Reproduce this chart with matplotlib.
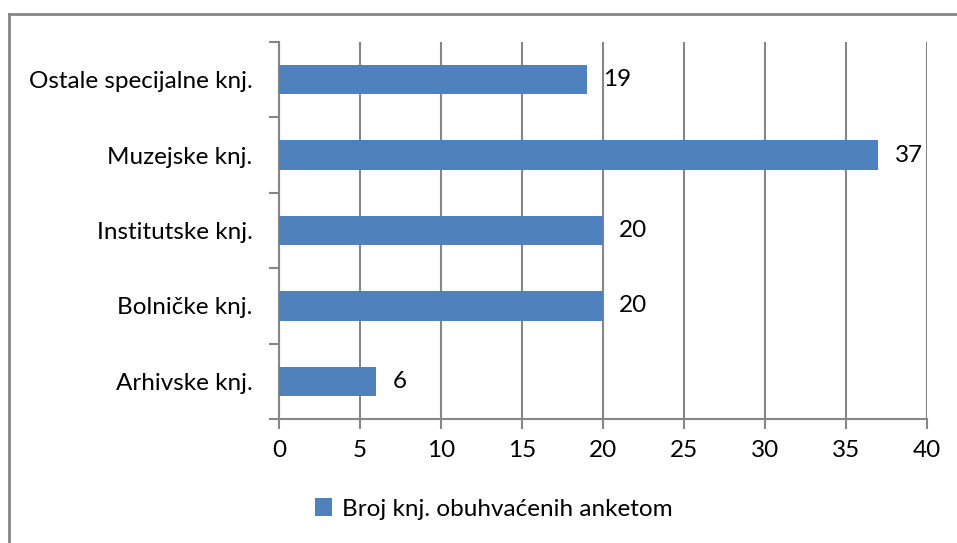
import matplotlib.pyplot as plt
from matplotlib.lines import Line2D

# podaci
kategorije = ["Arhivske knj.", "Bolničke knj.", "Institutske knj.", "Muzejske knj.", "Ostale specijalne knj."]
vrijednosti = [6, 20, 20, 37, 19]
x_oznake = [0, 5, 10, 15, 20, 25, 30, 35, 40]
legenda = "Broj knj. obuhvaćenih anketom"

plt.rcParams['font.family'] = ['Lato', 'DejaVu Sans']

boja = '#4f81bd'
siva = '#868686'
vel = 17.5

fig = plt.figure(figsize=(9.57, 5.43), dpi=100)
ax = fig.add_axes([279/957, 1 - 419/543, (927 - 279)/957, (419 - 42)/543])

y = range(len(kategorije))
ax.barh(y, vrijednosti, height=0.39, color=boja, zorder=3, label=legenda)

for i, v in enumerate(vrijednosti):
    ax.text(v + 1.0, i, str(v), va='center', ha='left', fontsize=vel, color='black')

ax.set_xlim(0, 40)
ax.set_ylim(-0.5, len(kategorije) - 0.5)
ax.set_xticks(x_oznake)
ax.set_xticklabels([str(t) for t in x_oznake], fontsize=vel)
ax.set_yticks(list(y))
ax.set_yticklabels(kategorije, fontsize=vel)
ax.tick_params(axis='y', length=0, pad=19)
ax.tick_params(axis='x', length=7, color=siva, width=1.5, pad=8)

# granice kategorija (kvačice na y osi)
ax.set_yticks([i - 0.5 for i in range(len(kategorije) + 1)], minor=True)
ax.tick_params(axis='y', which='minor', length=7, color=siva, width=1.5)

ax.grid(axis='x', color=siva, linewidth=1.5, zorder=0)
for s in ['top', 'right']:
    ax.spines[s].set_visible(False)
for s in ['left', 'bottom']:
    ax.spines[s].set_color(siva)
    ax.spines[s].set_linewidth(1.5)

# okvir grafikona
fig.add_artist(Line2D([8.5/957, 8.5/957], [0, 1 - 13.5/543], color=siva, linewidth=2, transform=fig.transFigure))
fig.add_artist(Line2D([8.5/957, 1], [1 - 13.5/543, 1 - 13.5/543], color=siva, linewidth=2, transform=fig.transFigure))

fig.legend(loc='center', bbox_to_anchor=(494/957, 1 - 509/543), frameon=False, fontsize=vel,
           handlelength=0.7, handleheight=0.7, handletextpad=0.4)

fig.savefig('out.png', dpi=100)
